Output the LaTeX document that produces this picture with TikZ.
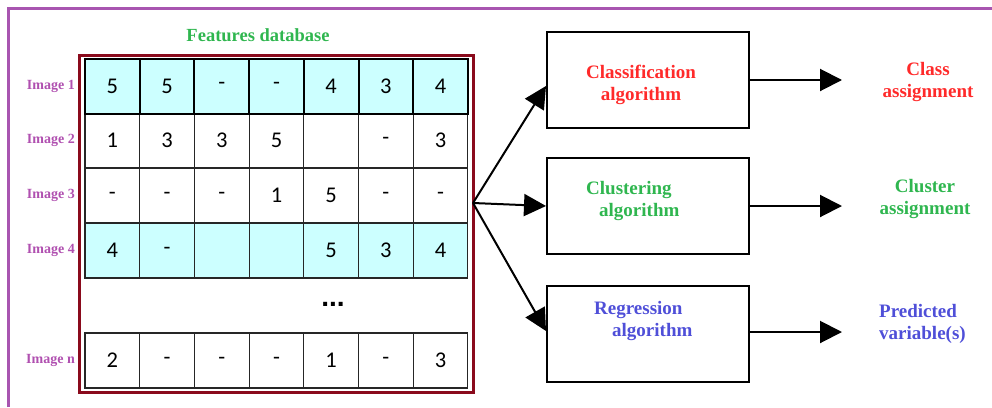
\documentclass[tikz,border=0pt]{standalone}
\usepackage{fontspec}
\setmainfont{Liberation Serif}
\newfontfamily\cellfont{Carlito}
\newfontfamily\dotfont{Liberation Sans}
\usetikzlibrary{arrows.meta,calc}

\definecolor{framepurple}{HTML}{A855B0}
\definecolor{labelpurple}{HTML}{B050B0}
\definecolor{dbred}{HTML}{8A0A1C}
\definecolor{rowcyan}{HTML}{CCFFFF}
\definecolor{txtred}{HTML}{FF2A2A}
\definecolor{txtgreen}{HTML}{2FB64F}
\definecolor{txtblue}{HTML}{4F4FD8}

\tikzset{
  cell/.style={draw=black!85, line width=1.1pt, minimum width=54.7pt,
    minimum height=55pt, inner sep=0pt, font=\cellfont\fontsize{22.5}{22.5}\selectfont},
  rowplain/.style={fill=white},
  rowhigh/.style={fill=rowcyan},
  rowfirst/.style={fill=rowcyan, draw=black, line width=2pt},
  imglabel/.style={anchor=east, text=labelpurple,
    font=\bfseries\fontsize{14}{14}\selectfont, inner sep=0pt},
  algobox/.style={draw=black, line width=2pt, minimum width=202pt,
    minimum height=96pt, inner sep=0pt},
  algotext/.style={font=\bfseries\fontsize{19}{22}\selectfont, inner sep=0pt},
  flow/.style={draw=black, line width=2pt,
    -{Triangle[length=22pt,width=22pt]}},
}

\begin{document}
\begin{tikzpicture}[x=1pt,y=-1pt]
\useasboundingbox (0,0) rectangle (992,407);

% page frame (left and top edges)
\draw[framepurple, line width=3pt] (8.5,407) -- (8.5,8.5) -- (992,8.5);

% title
\node[text=txtgreen, font=\bfseries\fontsize{18.5}{20}\selectfont] (title) at (258,35) {Features database};

% table of feature values
\foreach \r/\yc/\sty/\vals in {
    1/86/rowfirst/{5,5,-,-,4,3,4},
    2/140.5/rowplain/{1,3,3,5,{},-,3},
    3/195.5/rowplain/{-,-,-,1,5,-,-},
    4/250.5/rowhigh/{4,-,{},{},5,3,4},
    n/360.5/rowplain/{2,-,-,-,1,-,3}} {
  \foreach \v [count=\c] in \vals {
    \node[cell, \sty] (c-\r-\c) at ({85+54.7*(\c-0.5)}, \yc) {\v};
  }
  \node[imglabel] (img-\r) at (75,\yc) {Image \r};
}
% redraw the first row on top so its heavier border shows
\foreach \v [count=\c] in {5,5,-,-,4,3,4} {
  \node[cell, rowfirst] (d-1-\c) at ({85+54.7*(\c-0.5)}, 86) {\v};
}

\node[font=\dotfont\bfseries\fontsize{28}{28}\selectfont, inner sep=0pt, anchor=base] (dots) at (333,306) {...};

% outer frame of the database
\node[draw=dbred, line width=3pt, minimum width=394pt, minimum height=337pt,
  inner sep=0pt] (db) at (276,223.5) {};
\coordinate (hub) at (473,203);

% algorithm boxes
\node[algobox] (cls) at (648,80) {};
\node[algobox] (clu) at (648,206) {};
\node[algobox] (reg) at (648,334) {};

\node[algotext, text=txtred, align=center] (clsT) at (641,85) {Classification\\algorithm};
\node[algotext, text=txtgreen, align=left, anchor=north west] (cluT) at (586,181) {Clustering\\\hspace*{13pt}algorithm};
\node[algotext, text=txtblue, align=left, anchor=north west] (regT) at (594,301) {Regression\\\hspace*{18pt}algorithm};

% outputs
\node[algotext, text=txtred, align=center] (clsO) at (928,82) {Class\\assignment};
\node[algotext, text=txtgreen, align=center] (cluO) at (925,199) {Cluster\\assignment};
\node[algotext, text=txtblue, align=left, anchor=west] (regO) at (879,324) {Predicted\\variable(s)};

\coordinate (clsE) at (842,80);
\coordinate (cluE) at (842,206);
\coordinate (regE) at (842,332);

% connectors
\draw[flow] (hub) -- ($(cls.west)+(0,6)$);
\draw[flow] (hub) -- (clu.west);
\draw[flow] (hub) -- ($(reg.west)+(0,-3)$);
\draw[flow] (cls.east) -- (clsE);
\draw[flow] (clu.east) -- (cluE);
\draw[flow] (reg.east |- regE) -- (regE);
\end{tikzpicture}
\end{document}
